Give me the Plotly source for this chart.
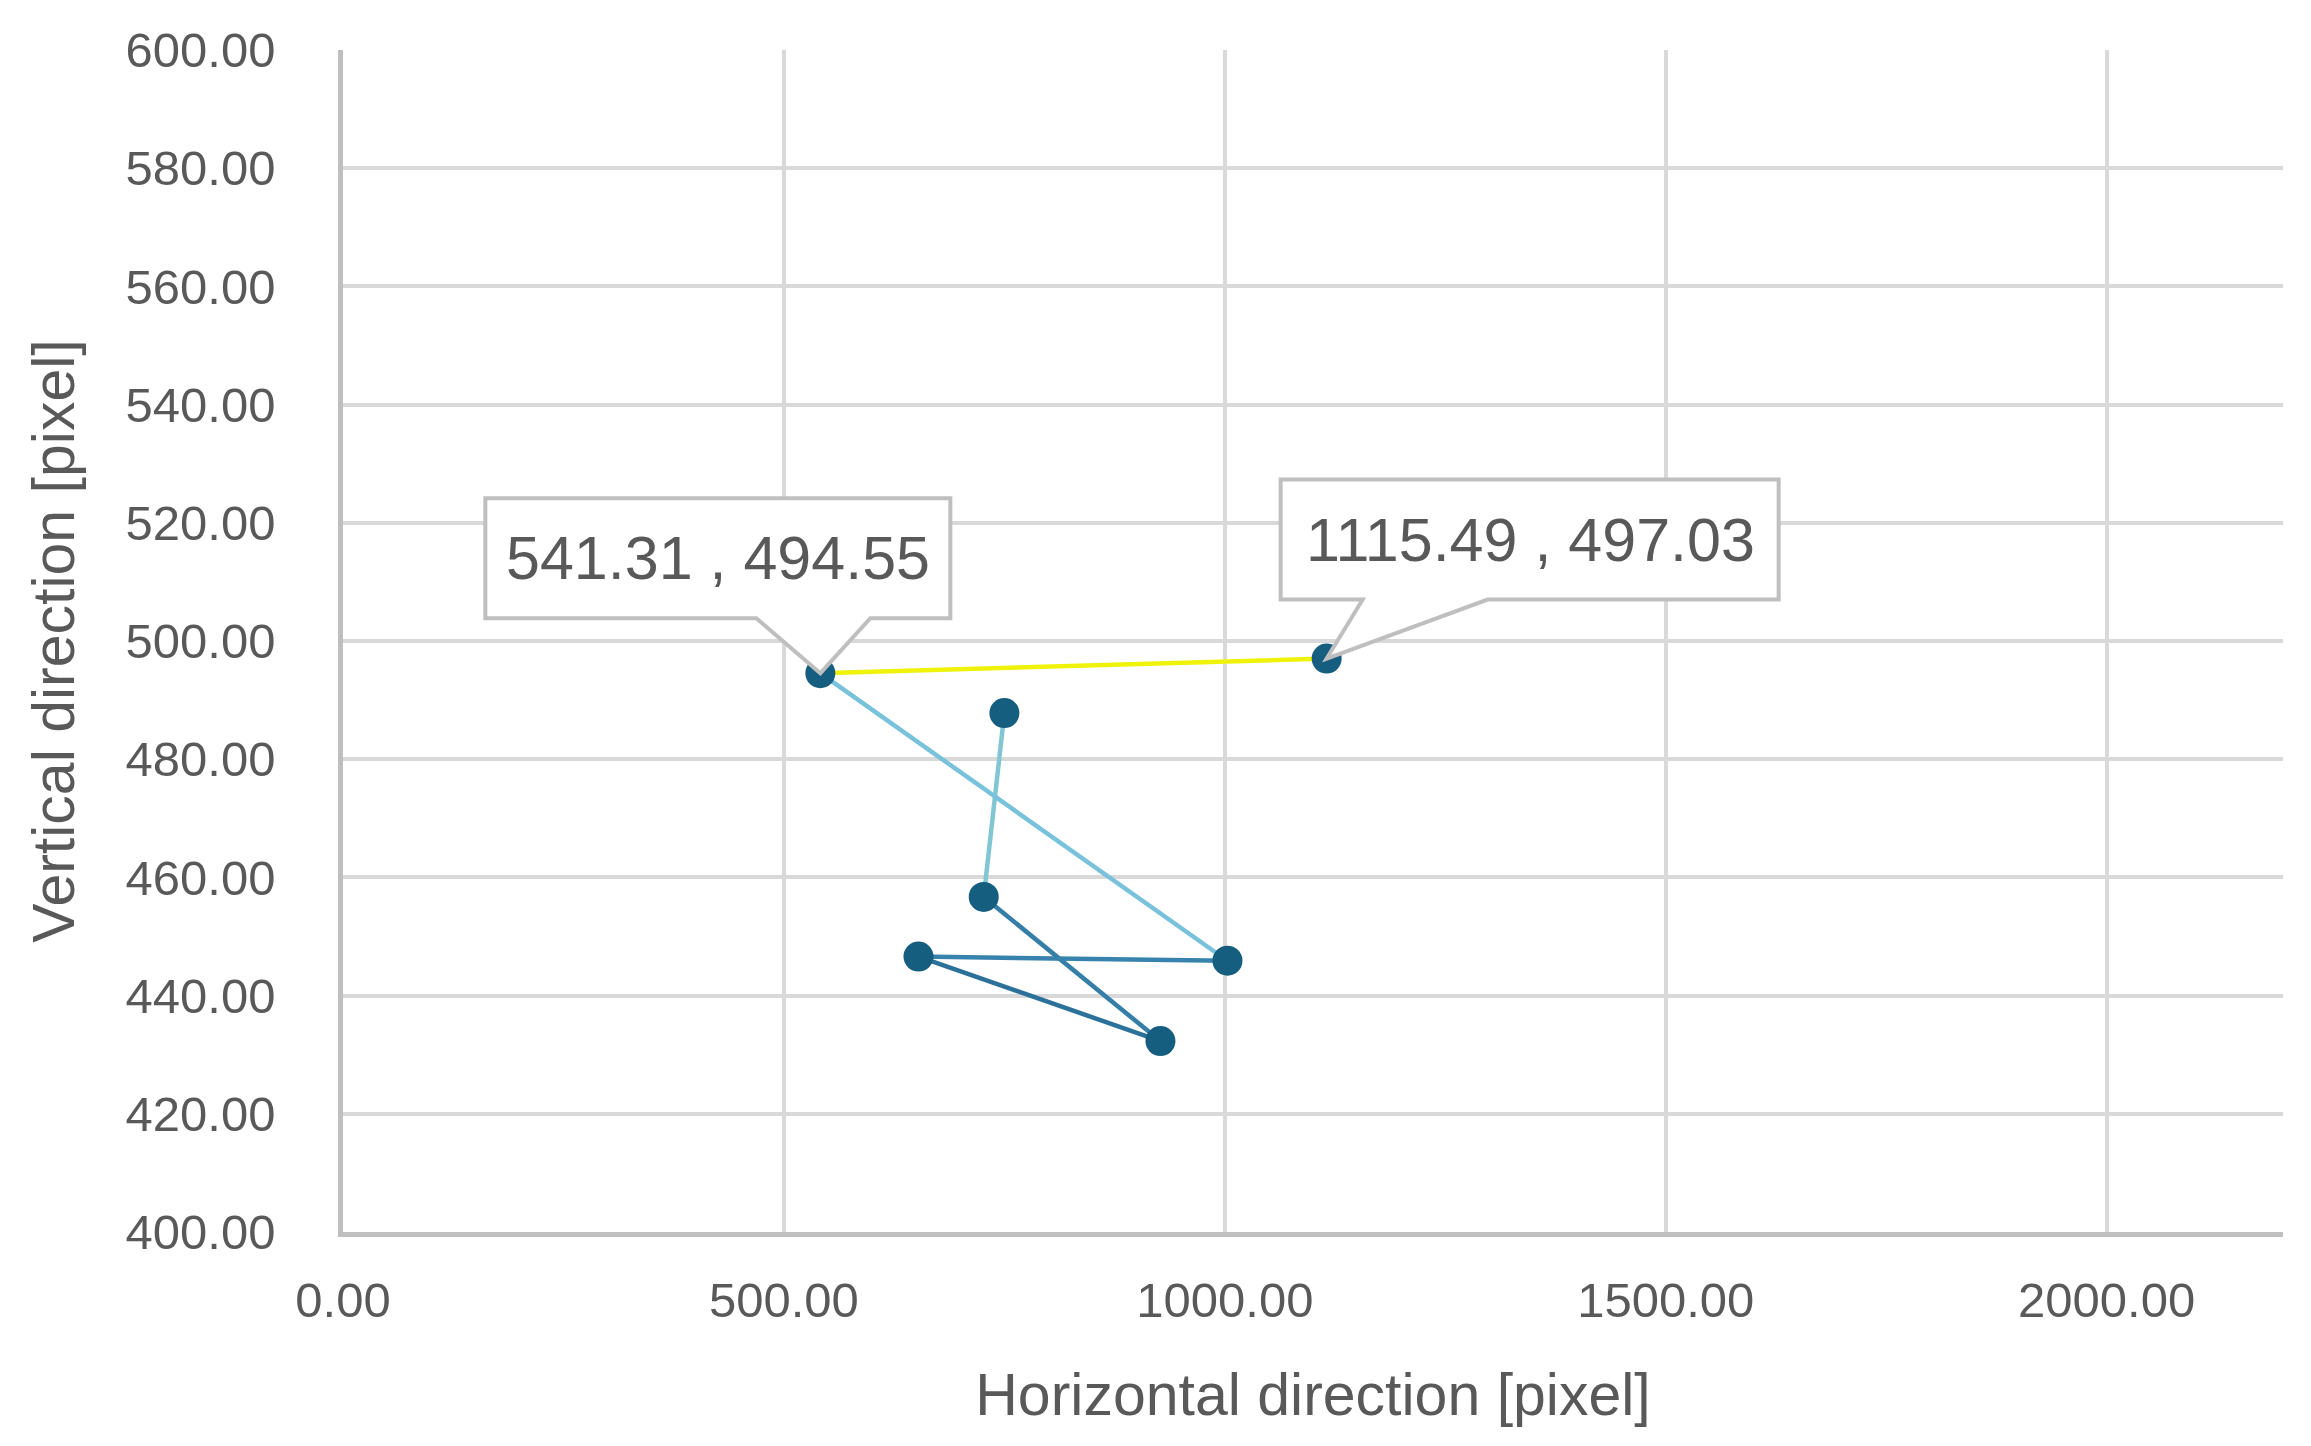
import plotly.graph_objects as go
from plotly.colors import sample_colorscale

# ---- data (path order) ----
x_vals = [750.0, 726.6, 927.0, 652.6, 1003.0, 541.31, 1115.49]
y_vals = [487.8, 456.7, 432.3, 446.6, 445.9, 494.55, 497.03]

x_ticks = [0, 500, 1000, 1500, 2000]
y_ticks = [400, 420, 440, 460, 480, 500, 520, 540, 560, 580, 600]

labelled_idx = [5, 6]  # points with callouts

FONT = "Liberation Sans"
TXT = "#595959"
MARKER = "#165e80"
GRAD = [[0.0, "#1f5f85"], [0.2, "#3580aa"], [0.45, "#5aaed6"],
        [0.6, "#7cc4dc"], [0.85, "#c8e650"], [1.0, "#f5f500"]]

fig = go.Figure()

ymin, ymax = min(y_vals), max(y_vals)
for i in range(len(x_vals) - 1):
    ymid = (y_vals[i] + y_vals[i + 1]) / 2
    t = (ymid - ymin) / (ymax - ymin)
    col = sample_colorscale(GRAD, [t])[0]
    fig.add_trace(go.Scatter(
        x=x_vals[i:i + 2], y=y_vals[i:i + 2], mode="lines",
        line=dict(color=col, width=4.5), showlegend=False, hoverinfo="skip"))

fig.add_trace(go.Scatter(
    x=x_vals, y=y_vals, mode="markers",
    marker=dict(color=MARKER, size=30, line=dict(width=0)),
    showlegend=False))

# callout geometry in pixel offsets relative to the labelled point (y up)
callouts = [
    dict(box=(-335, 130, 55, 175), base=(-64, 50), text_shift=(-102.5, 115)),
    dict(box=(-46, 452, 59, 179), base=(36, 161), text_shift=(203.5, 119)),
]
for idx, c in zip(labelled_idx, callouts):
    xl, xr, yb, yt = c["box"]
    b0, b1 = c["base"]
    path = (f"M 0,0 L {b0},{yb} L {xl},{yb} L {xl},{yt} L {xr},{yt} "
            f"L {xr},{yb} L {b1},{yb} Z")
    fig.add_shape(type="path", path=path, xref="x", yref="y",
                  xsizemode="pixel", ysizemode="pixel",
                  xanchor=x_vals[idx], yanchor=y_vals[idx],
                  fillcolor="white", line=dict(color="#bfbfbf", width=4),
                  layer="above")
    fig.add_annotation(x=x_vals[idx], y=y_vals[idx], xref="x", yref="y",
                       text=f"{x_vals[idx]:.2f} , {y_vals[idx]:.2f}",
                       showarrow=False, xshift=c["text_shift"][0],
                       yshift=c["text_shift"][1],
                       font=dict(family=FONT, size=61, color=TXT))

fig.update_layout(
    width=2311, height=1446,
    margin=dict(l=343, r=28, t=50, b=214),
    paper_bgcolor="white", plot_bgcolor="white",
    font=dict(family=FONT, color=TXT),
)
fig.update_xaxes(
    range=[0, 2200], tickvals=x_ticks, tickformat=".2f",
    showgrid=True, gridcolor="#d9d9d9", gridwidth=4,
    showline=True, linecolor="#bfbfbf", linewidth=4.5,
    zeroline=False, ticks="", ticklabelstandoff=21,
    tickfont=dict(family=FONT, size=49, color=TXT),
    title=dict(text="Horizontal direction [pixel]", standoff=50,
               font=dict(family=FONT, size=59, color=TXT)),
)
fig.update_yaxes(
    range=[400, 600], tickvals=y_ticks, tickformat=".2f",
    showgrid=True, gridcolor="#d9d9d9", gridwidth=4,
    showline=True, linecolor="#bfbfbf", linewidth=4.5,
    zeroline=False, ticks="", ticklabelstandoff=53,
    tickfont=dict(family=FONT, size=49, color=TXT),
    title=dict(text="Vertical direction [pixel]", standoff=33,
               font=dict(family=FONT, size=59, color=TXT)),
)

fig.write_html("out.html", config={"displayModeBar": False},
               post_script="document.body.style.margin='0';")
